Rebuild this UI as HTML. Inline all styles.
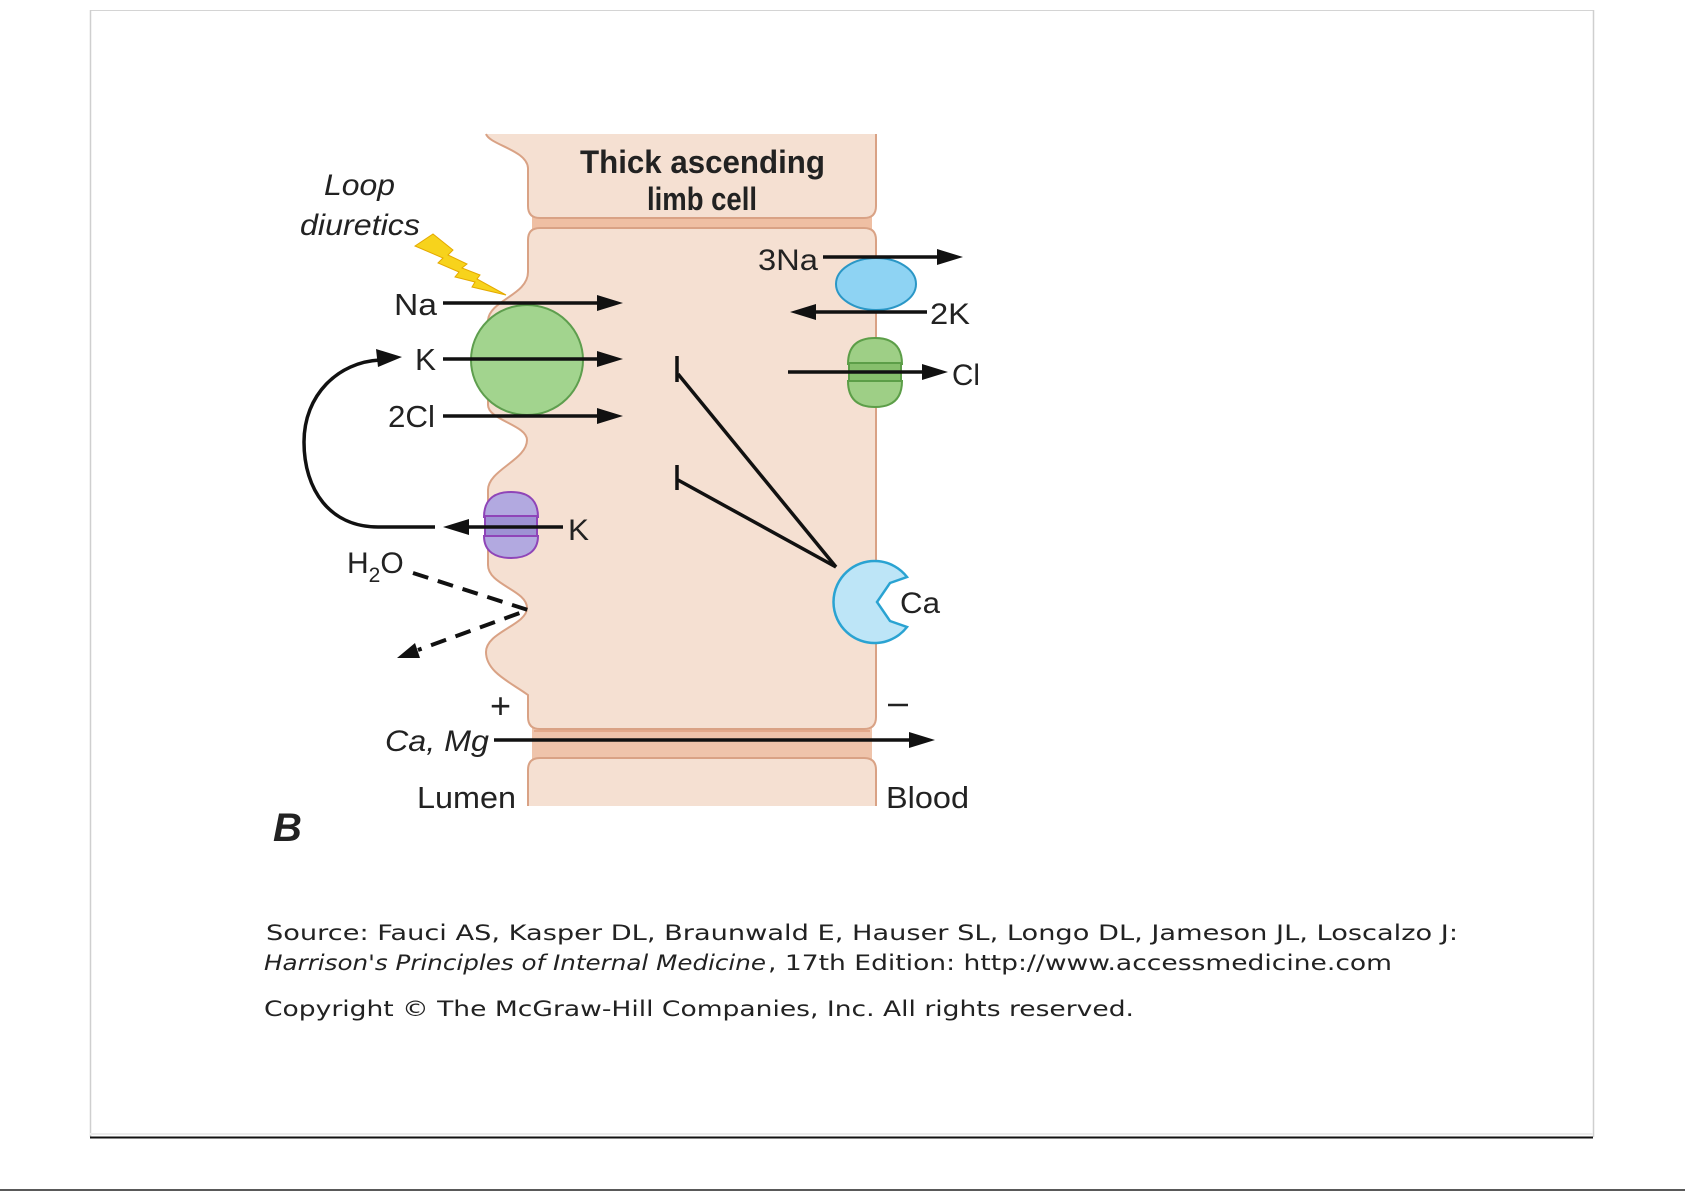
<!DOCTYPE html>
<html>
<head>
<meta charset="utf-8">
<style>
  html,body{margin:0;padding:0;background:#fff;}
  body{width:1685px;height:1191px;overflow:hidden;}
  svg{display:block;}
  .lbl{font-family:"Liberation Sans",Arial,sans-serif;fill:#222;}
  .src{font-family:"DejaVu Sans","Liberation Sans",sans-serif;fill:#222;}
</style>
</head>
<body>
<svg width="1685" height="1191" viewBox="0 0 1685 1191" xmlns="http://www.w3.org/2000/svg">
  <!-- frame -->
  <rect x="0" y="0" width="1685" height="1191" fill="#fff"/>
  <line x1="90" y1="10.5" x2="1593" y2="10.5" stroke="#d4d4d4" stroke-width="1"/>
  <line x1="90.5" y1="10" x2="90.5" y2="1137" stroke="#cfcfcf" stroke-width="1.5"/>
  <line x1="1593.5" y1="10" x2="1593.5" y2="1137" stroke="#cfcfcf" stroke-width="1.5"/>
  <line x1="90" y1="1134" x2="1593" y2="1134" stroke="#ececec" stroke-width="2"/>
  <line x1="90" y1="1137.5" x2="1593" y2="1137.5" stroke="#111" stroke-width="2"/>
  <line x1="0" y1="1190" x2="1685" y2="1190" stroke="#222" stroke-width="1.5"/>

  <!-- junction bands -->
  <rect x="532" y="216" width="340" height="14" fill="#efbfa3"/>
  <rect x="532" y="727" width="340" height="33" fill="#efc4ab"/>
  <line x1="534" y1="731" x2="870" y2="731" stroke="#e3a98a" stroke-width="2"/>

  <!-- top cell -->
  <path d="M486,134 L876,134 L876,206 Q876,218 864,218 L540,218 Q528,218 528,206 L528,168 C527,150 490,145 486,134 Z" fill="#f5e0d2"/>
  <path d="M486,134 C490,145 527,150 528,168 L528,206 Q528,218 540,218 L864,218 Q876,218 876,206 L876,134" fill="none" stroke="#d9a285" stroke-width="2"/>

  <!-- main cell -->
  <path d="M540,228 L864,228 Q876,228 876,240 L876,717 Q876,729 864,729 L540,729 Q528,729 528,717 L528,695 C510,682 486,672 486,652 C486,632 527,625 527,608 C527,590 488,585 488,565 L488,490 C488,470 527,460 527,440 C527,425 488,420 488,405 L488,320 C490,300 528,295 528,272 L528,240 Q528,228 540,228 Z" fill="#f5e0d2" stroke="#d9a285" stroke-width="2"/>

  <!-- bottom cell -->
  <path d="M528,806 L528,770 Q528,758 540,758 L864,758 Q876,758 876,770 L876,806 Z" fill="#f5e0d2"/>
  <path d="M528,806 L528,770 Q528,758 540,758 L864,758 Q876,758 876,770 L876,806" fill="none" stroke="#d9a285" stroke-width="2"/>

  <!-- header text -->
  <text class="lbl" x="580" y="173" font-size="32" font-weight="bold" textLength="245" lengthAdjust="spacingAndGlyphs" fill="#1a1a1a">Thick ascending</text>
  <text class="lbl" x="647" y="210" font-size="32" font-weight="bold" textLength="110" lengthAdjust="spacingAndGlyphs" fill="#1a1a1a">limb cell</text>

  <!-- Loop diuretics -->
  <text class="lbl" x="324" y="195" font-size="30" font-style="italic" textLength="71" lengthAdjust="spacingAndGlyphs">Loop</text>
  <text class="lbl" x="300" y="235" font-size="30" font-style="italic" textLength="120" lengthAdjust="spacingAndGlyphs">diuretics</text>

  <!-- lightning -->
  <polygon points="415,246 433,234 453,250 448,255 467,264 462,268 480,275 477,279 506,295 472,287 475,282 455,277 459,272 438,263 443,258" fill="#f7d31c" stroke="#e4a900" stroke-width="1"/>

  <!-- NKCC green transporter -->
  <ellipse cx="527" cy="360" rx="56" ry="55" fill="#a2d48e" stroke="#5e9e4e" stroke-width="2"/>

  <!-- Na/K ATPase -->
  <ellipse cx="876" cy="284" rx="40" ry="26" fill="#8ed3f3" stroke="#2b97c6" stroke-width="2"/>

  <!-- Cl channel (green) -->
  <path d="M848,364 C848,344 860,338 875,338 C890,338 902,344 902,364 Z" fill="#9ecf86" stroke="#5c9e48" stroke-width="2"/>
  <path d="M848,381 C848,401 860,407 875,407 C890,407 902,401 902,381 Z" fill="#9ecf86" stroke="#5c9e48" stroke-width="2"/>
  <rect x="849" y="363" width="52" height="18" fill="#86bf6c" stroke="#5c9e48" stroke-width="2"/>

  <!-- K channel (purple) -->
  <path d="M484,517 C484,498 496,492 511,492 C526,492 538,498 538,517 Z" fill="#b2a9e0" stroke="#8f45b8" stroke-width="2"/>
  <path d="M484,536 C484,552 496,558 511,558 C526,558 538,552 538,536 Z" fill="#b2a9e0" stroke="#8f45b8" stroke-width="2"/>
  <rect x="485" y="516" width="52" height="20" fill="#9e92d4" stroke="#8f45b8" stroke-width="2"/>

  <!-- Ca sensing receptor -->
  <path d="M907,577 A41,41 0 1,0 907,627 L890,621 L877,602 L890,583 Z" fill="#bde5f7" stroke="#2aa3d2" stroke-width="2.5"/>

  <!-- arrows -->
  <g stroke="#111" stroke-width="3.5" fill="none">
    <line x1="443" y1="303" x2="600" y2="303"/>
    <line x1="443" y1="359" x2="600" y2="359"/>
    <line x1="443" y1="416" x2="600" y2="416"/>
    <line x1="823" y1="257" x2="940" y2="257"/>
    <line x1="927" y1="312" x2="812" y2="312"/>
    <line x1="788" y1="372" x2="925" y2="372"/>
    <line x1="563" y1="527" x2="465" y2="527"/>
    <path d="M435,527 L378,527 C330,527 304,490 304,442 C304,395 338,362 380,360"/>
    <line x1="494" y1="740" x2="912" y2="740"/>
    <!-- inhibition -->
    <line x1="677" y1="356" x2="677" y2="382"/>
    <line x1="678" y1="374" x2="836" y2="567"/>
    <line x1="677" y1="465" x2="677" y2="490"/>
    <line x1="678" y1="480" x2="836" y2="567"/>
    <!-- dashed H2O -->
    <path d="M413,573 L528,610 L418,650" stroke-width="4" stroke-dasharray="16 10"/>
  </g>
  <g fill="#111">
    <polygon points="623,303 597,295 597,311"/>
    <polygon points="623,359 597,351 597,367"/>
    <polygon points="623,416 597,408 597,424"/>
    <polygon points="963,257 937,249 937,265"/>
    <polygon points="790,312 816,304 816,320"/>
    <polygon points="948,372 922,364 922,380"/>
    <polygon points="443,527 469,519 469,535"/>
    <polygon points="402,357 376,349 378,367"/>
    <polygon points="935,740 909,732 909,748"/>
    <polygon points="397,658 420,658 415,643"/>
  </g>

  <!-- labels -->
  <text class="lbl" x="394" y="315" font-size="31" textLength="43" lengthAdjust="spacingAndGlyphs">Na</text>
  <text class="lbl" x="415" y="370" font-size="31" textLength="21" lengthAdjust="spacingAndGlyphs">K</text>
  <text class="lbl" x="388" y="427" font-size="31" textLength="47" lengthAdjust="spacingAndGlyphs">2Cl</text>
  <text class="lbl" x="758" y="270" font-size="30" textLength="60" lengthAdjust="spacingAndGlyphs">3Na</text>
  <text class="lbl" x="930" y="324" font-size="30" textLength="40" lengthAdjust="spacingAndGlyphs">2K</text>
  <text class="lbl" x="952" y="385" font-size="30" textLength="28" lengthAdjust="spacingAndGlyphs">Cl</text>
  <text class="lbl" x="568" y="540" font-size="30" textLength="21" lengthAdjust="spacingAndGlyphs">K</text>
  <text class="lbl" x="347" y="573" font-size="30">H<tspan font-size="21" dy="9">2</tspan><tspan dy="-9">O</tspan></text>
  <text class="lbl" x="900" y="613" font-size="30" textLength="40" lengthAdjust="spacingAndGlyphs">Ca</text>
  <text class="lbl" x="490" y="718" font-size="36">+</text>
  <line x1="888" y1="705" x2="908" y2="705" stroke="#222" stroke-width="2.5"/>
  <text class="lbl" x="385" y="751" font-size="30" font-style="italic" textLength="104" lengthAdjust="spacingAndGlyphs">Ca, Mg</text>
  <text class="lbl" x="417" y="808" font-size="31" textLength="99" lengthAdjust="spacingAndGlyphs">Lumen</text>
  <text class="lbl" x="886" y="808" font-size="31" textLength="83" lengthAdjust="spacingAndGlyphs">Blood</text>
  <text class="lbl" x="273" y="841" font-size="40" font-weight="bold" font-style="italic" fill="#111">B</text>

  <!-- source -->
  <text class="src" x="266" y="940" font-size="21" textLength="1192" lengthAdjust="spacingAndGlyphs">Source: Fauci AS, Kasper DL, Braunwald E, Hauser SL, Longo DL, Jameson JL, Loscalzo J:</text>
  <text class="src" x="264" y="970" font-size="21" font-style="italic" textLength="502" lengthAdjust="spacingAndGlyphs">Harrison's Principles of Internal Medicine</text>
  <text class="src" x="768" y="970" font-size="21" textLength="624" lengthAdjust="spacingAndGlyphs">, 17th Edition: http://www.accessmedicine.com</text>
  <text class="src" x="264" y="1016" font-size="21" textLength="870" lengthAdjust="spacingAndGlyphs">Copyright © The McGraw-Hill Companies, Inc. All rights reserved.</text>
</svg>
</body>
</html>
